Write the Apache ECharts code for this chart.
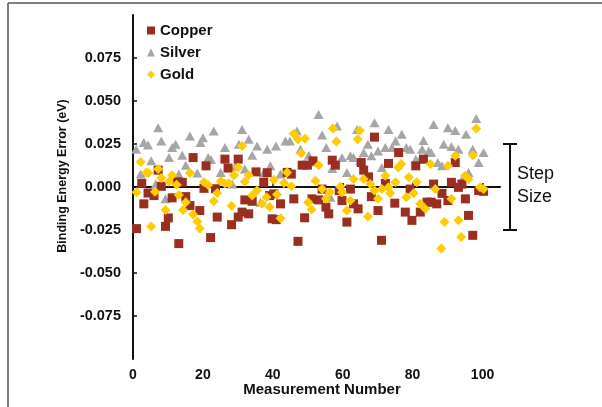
<!DOCTYPE html>
<html>
<head>
<meta charset="utf-8">
<script src="https://cdn.jsdelivr.net/npm/echarts/dist/echarts.min.js"></script>
<style>
  html, body { margin: 0; padding: 0; background: #fff; }
  #chart { width: 602px; height: 407px; }
</style>
</head>
<body>
<div id="chart"></div>
<script>
var copperX = [1, 2.5, 3.1, 4.3, 6, 7.2, 8.1, 9.3, 10.1, 11.2, 12.6, 13.1, 14.1, 15.1, 16.3, 17.2, 19.1, 20.3, 20.9,
  22.2, 23.6, 24.1, 26.3, 27.2, 28.2, 30.1, 30.1, 31.2, 32, 33.1, 34.1, 35.2, 37.4, 38.4, 39.1, 39.8,
  40.3, 41, 42.2, 44.1, 45.3, 46, 47.2, 48.4, 49.1, 49.9, 51.2, 51.5, 53.1, 54.1, 55.2, 56, 57, 57.9, 59, 59.8,
  61.2, 62.2, 63.1, 64.4, 65.3, 66, 67.4, 68.2, 69.1, 70.1, 71.1, 72.2, 73.1, 74.9, 76, 77.9, 79.3, 79.8,
  80.9, 82.2, 83.1, 84.1, 85.3, 86, 86.9, 88.4, 90.1, 91.1, 92.2, 93.1, 94.1, 95.1, 96, 97.2, 98.9, 100.3];
var copperY = [-0.0242, 0.0021, -0.0098, -0.0035, -0.0050, 0.0098, 0.0004, -0.0229, -0.0180, -0.0063, 0.0030, -0.0329, 0.0027, -0.0056, -0.0108, 0.0171, -0.0137, -0.0008, 0.0123,
  -0.0294, -0.0010, -0.0175, 0.0162, 0.0110, -0.0219, 0.0162, -0.0175, -0.0146, -0.0075, -0.0156, -0.0083, 0.0088, 0.0027, 0.0083, -0.0050, -0.0185,
  -0.0040, -0.0190, -0.0098, 0.0085, 0.0075, -0.0069, -0.0316, 0.0127, -0.0179, 0.0127, -0.0069, 0.0152, -0.0075, -0.0012, -0.0117, -0.0156, 0.0156, 0.0127, -0.0021, -0.0079,
  -0.0204, -0.0012, -0.0098, -0.0127, 0.0142, 0.0098, 0.0059, -0.0056, 0.0290, -0.0137, -0.0310, 0.0021, 0.0137, -0.0094, 0.0200, -0.0146, -0.0012, -0.0194,
  0.0123, -0.0146, 0.0162, -0.0088, -0.0088, 0.0017, -0.0098, -0.0037, -0.0079, 0.0027, 0.0142, -0.0002, 0.0017, -0.0069, -0.0165, -0.0281, -0.0021, -0.0025];

var silverX = [0.9, 2.2, 3.1, 4.3, 5.2, 6.5, 7.2, 8.1, 9.3, 10.3, 11.2, 12.2, 13.1, 14.1, 15.1, 16.3, 18.4, 19.3,
  20, 21.5, 22.3, 23.1, 25.1, 26.3, 28.4, 29.3, 30.3, 31.2, 32, 33.1, 34.1, 35.5, 36.5, 37.4, 38.4, 39.3,
  40.9, 42.2, 43.6, 44.9, 46.9, 47.9, 50.3, 52, 53.1, 54.1, 55.3, 56.5, 57, 58.4, 59.8,
  61.2, 62.2, 63.1, 64.1, 65, 66, 67.2, 68.2, 69.1, 70.1, 71.2, 72.2, 73.1, 74.1, 75.1, 76.9, 78.2, 79.3,
  80.9, 82.1, 82.7, 83.1, 84.6, 85.3, 86, 87.2, 88.4, 88.9, 90.1, 91.1, 92.2, 93.1, 94.1, 95.3, 96, 97.2, 98.2, 98.9, 100.3];
var silverY = [0.0219, 0.0075, 0.0258, 0.0244, 0.0152, 0.0017, 0.0344, 0.0267, -0.0069, 0.0171, 0.0229, 0.0248, 0.0075, 0.0185, 0.0127, 0.0296, 0.0081, 0.0258,
  0.0287, 0.0171, 0.0160, 0.0325, 0.0085, 0.0229, 0.0017, 0.0121, 0.0248, 0.0335, 0.0104, 0.0277, 0.0185, 0.0238, -0.0088, 0.0081, 0.0219, 0.0123,
  0.0238, 0.0075, 0.0267, 0.0267, 0.0325, 0.0219, 0.0185, 0.0146, 0.0421, 0.0302, 0.0229, -0.0060, 0.0108, 0.0354, 0.0171,
  0.0085, 0.0181, 0.0171, 0.0335, 0.0152, 0.0200, 0.0248, 0.0181, 0.0373, 0.0210, 0.0114, 0.0229, 0.0335, 0.0229, 0.0267, 0.0306, 0.0230, 0.0219,
  0.0162, 0.0162, 0.0219, 0.0271, 0.0210, 0.0200, 0.0364, 0.0142, 0.0123, 0.0248, 0.0344, 0.0235, 0.0329, 0.0219, 0.0040, 0.0306, 0.0085, 0.0219, 0.0398, 0.0142, 0.0200];

var goldX = [1, 2.2, 3.8, 4.4, 5.2, 6.3, 7.2, 8.1, 9.3, 10.3, 11.2, 12.5, 13.1, 14.3, 15.1, 16.3, 17.2, 18.4, 19.1,
  20.3, 21.5, 23.1, 24.1, 25.1, 26.3, 27.4, 28.2, 28.9, 30.1, 31.2, 32, 33.1, 34.1, 35.5, 36.9, 38.2, 39.1,
  40.3, 41.2, 42.2, 43.2, 44.1, 45.3, 46, 47.2, 48.1, 49.2, 50.1, 51.1, 52.2, 53.1, 54.1, 55.2, 56.3, 57.2, 58.2, 59.3, 59.8,
  61.2, 62.2, 63.1, 64.3, 64.9, 66, 67.2, 67.9, 69.1, 70.1, 71.2, 72.2, 73.1, 73.6, 75.1, 75.9, 76.7, 78.2, 78.9,
  80.3, 81.2, 82.2, 83.6, 85.1, 86.5, 88.2, 89.1, 90.1, 91.1, 92.2, 93.1, 93.9, 95, 96, 97.2, 98.2, 99.3, 100.3];
var goldY = [-0.0031, 0.0146, 0.0085, 0.0081, -0.0229, -0.0027, 0.0104, 0.0052, -0.0133, 0.0031, 0.0069, 0.0013, -0.0046, -0.0133, -0.0088, 0.0081, -0.0160, -0.0200, -0.0242,
  0.0027, 0.0012, -0.0083, -0.0035, 0.0033, 0.0021, 0.0021, -0.0111, 0.0069, 0.0114, 0.0238, 0.0031, 0.0069, -0.0050, -0.0021, -0.0098, -0.0060, -0.0117,
  0.0040, -0.0044, -0.0181, 0.0023, 0.0085, 0.0004, 0.0310, 0.0277, 0.0196, 0.0280, -0.0088, -0.0131, 0.0037, 0.0127, -0.0012, -0.0069, -0.0031, 0.0340, 0.0264, 0.0002, -0.0030,
  -0.0137, -0.0079, 0.0046, 0.0277, 0.0329, 0.0046, -0.0171, 0.0017, -0.0021, -0.0069, -0.0012, 0.0065, -0.0002, -0.0037, 0.0027, 0.0114, 0.0133, -0.0060, 0.0056,
  -0.0037, 0.0027, -0.0098, -0.0127, 0.0133, -0.0012, -0.0358, -0.0204, 0.0123, -0.0069, 0.0181, -0.0194, -0.0290, 0.0065, 0.0046, 0.0185, 0.0340, -0.0002, -0.0012];

var xTicks = [0, 20, 40, 60, 80, 100];
var yTicks = [-0.075, -0.05, -0.025, 0, 0.025, 0.05, 0.075];
var stepRange = [-0.025, 0.025];

var FONT = '"Liberation Sans", Arial, sans-serif';

function pairs(xs, ys) {
  var out = [];
  for (var i = 0; i < xs.length; i++) {
    out.push([xs[i], ys[i]]);
  }
  return out;
}

var chart = echarts.init(document.getElementById('chart'), null, { renderer: 'canvas' });

var option = {
  backgroundColor: '#fff',
  animation: false,
  grid: { left: 133, right: 102, top: 15, bottom: 48 },
  legend: {
    orient: 'vertical',
    left: 142,
    top: 18,
    itemWidth: 8,
    itemHeight: 8,
    itemGap: 7,
    data: ['Copper', 'Silver', 'Gold'],
    textStyle: { fontFamily: FONT, fontWeight: 'bold', fontSize: 15, color: '#111' }
  },
  xAxis: {
    type: 'value',
    min: 0,
    max: 105,
    interval: 20,
    splitLine: { show: false },
    axisLine: { lineStyle: { color: '#111', width: 2 } },
    axisTick: { inside: true, length: 4, customValues: xTicks, lineStyle: { color: '#111', width: 1.5 } },
    axisLabel: { customValues: xTicks, margin: 9, fontFamily: FONT, fontWeight: 'bold', fontSize: 14, color: '#111' }
  },
  yAxis: {
    type: 'value',
    min: -0.1,
    max: 0.1,
    interval: 0.025,
    splitLine: { show: false },
    axisLine: { lineStyle: { color: '#111', width: 2 } },
    axisTick: { inside: true, length: 4, customValues: yTicks, lineStyle: { color: '#111', width: 1.5 } },
    axisLabel: {
      customValues: yTicks,
      margin: 12,
      fontFamily: FONT, fontWeight: 'bold', fontSize: 14.5, color: '#111',
      formatter: function (v) { return v.toFixed(3); }
    }
  },
  series: [
    {
      name: 'Copper', type: 'scatter', symbol: 'rect', symbolSize: 9, z: 3,
      itemStyle: { color: '#9a2e20', opacity: 1 },
      data: pairs(copperX, copperY)
    },
    {
      name: 'Silver', type: 'scatter', symbol: 'triangle', symbolSize: [10, 9], z: 2,
      itemStyle: { color: '#a6a6a6', opacity: 1 },
      data: pairs(silverX, silverY)
    },
    {
      name: 'Gold', type: 'scatter', symbol: 'diamond', symbolSize: 10, z: 4,
      itemStyle: { color: '#ffcc00', opacity: 1 },
      data: pairs(goldX, goldY)
    }
  ]
};
chart.setOption(option);

// axis titles, step size bracket and the frame (only its top and left edges are in view)
var yTop = chart.convertToPixel({ yAxisIndex: 0 }, stepRange[1]);
var yBot = chart.convertToPixel({ yAxisIndex: 0 }, stepRange[0]);
var bx = 510;
chart.setOption({
  graphic: [
    {
      type: 'text', x: 63, y: 176, rotation: Math.PI / 2,
      style: { text: 'Binding Energy Error (eV)', font: 'bold 12.5px ' + FONT, fill: '#111', align: 'center', verticalAlign: 'middle' }
    },
    {
      type: 'text', x: 322, y: 390,
      style: { text: 'Measurement Number', font: 'bold 15px ' + FONT, fill: '#111', align: 'center', verticalAlign: 'middle' }
    },
    { type: 'line', shape: { x1: bx, y1: yTop, x2: bx, y2: yBot }, style: { stroke: '#111', lineWidth: 2 } },
    { type: 'line', shape: { x1: bx - 7, y1: yTop, x2: bx + 7, y2: yTop }, style: { stroke: '#111', lineWidth: 2 } },
    { type: 'line', shape: { x1: bx - 7, y1: yBot, x2: bx + 7, y2: yBot }, style: { stroke: '#111', lineWidth: 2 } },
    {
      type: 'text', x: 517, y: 174,
      style: { text: 'Step', font: '18px ' + FONT, fill: '#111', align: 'left', verticalAlign: 'middle' }
    },
    {
      type: 'text', x: 517, y: 197,
      style: { text: 'Size', font: '18px ' + FONT, fill: '#111', align: 'left', verticalAlign: 'middle' }
    },
    { type: 'line', shape: { x1: 8, y1: 3, x2: 602, y2: 3 }, style: { stroke: '#555', lineWidth: 1.5 } },
    { type: 'line', shape: { x1: 8, y1: 3, x2: 8, y2: 407 }, style: { stroke: '#555', lineWidth: 1.5 } }
  ]
});
</script>
</body>
</html>
